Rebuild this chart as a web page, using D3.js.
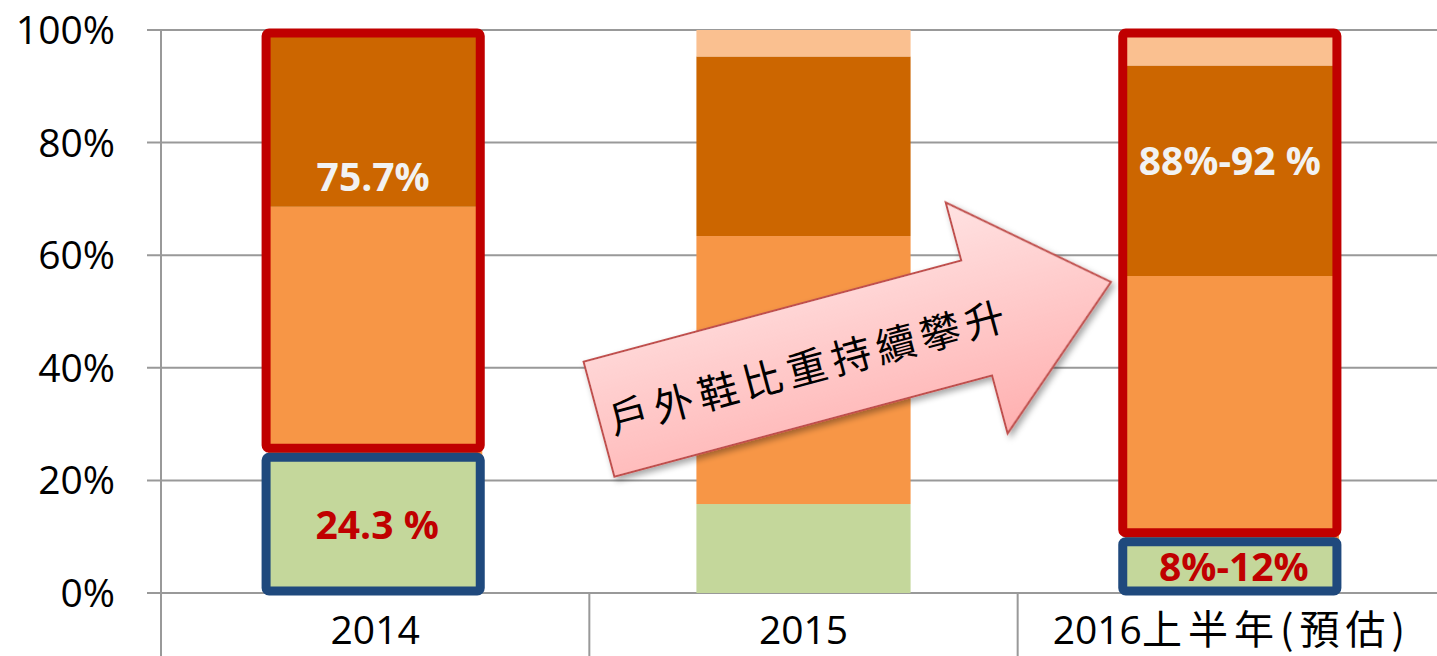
<!DOCTYPE html>
<html>
<head>
    <meta charset="utf-8">
    <script src="https://d3js.org/d3.v7.min.js"></script>
    <style>
        body {
            margin: 0;
            background: #fff;
            overflow: hidden;
        }
        svg text {
            font-family: "Open Sans", "Noto Sans CJK TC", sans-serif;
        }
        .grid line {
            stroke: #999;
            stroke-width: 2;
        }
    </style>
</head>
<body>
    <div id="chart"></div>

    <script>
        // Data (shares in %)
        const categories = ["2014", "2015", "2016上半年(預估)"];
        const greenVals = [24.3, 15.8, 9.3];
        const orangeVals = [44.3, 47.6, 47.0];
        const darkVals = [31.4, 31.9, 37.4];
        const peachVals = [0, 4.7, 6.3];
        const yTicks = [0, 20, 40, 60, 80, 100];

        // annotations
        const topLabels = ["75.7%", null, "88%-92 %"];
        const bottomLabels = ["24.3 %", null, "8%-12%"];
        const highlighted = [true, false, true];
        const arrowText = "戶外鞋比重持續攀升";

        const width = 1437, height = 656;
        const margin = {top: 30, right: -9, bottom: 63, left: 161};

        const svg = d3.select("#chart")
            .append("svg")
            .attr("width", width)
            .attr("height", height);

        const defs = svg.append("defs");
        const grad = defs.append("linearGradient")
            .attr("id", "pink")
            .attr("x1", 0).attr("y1", 0).attr("x2", 0).attr("y2", 1);
        grad.append("stop").attr("offset", "0%").attr("stop-color", "#ffe2e2");
        grad.append("stop").attr("offset", "100%").attr("stop-color", "#ffb0b0");

        const shadow = defs.append("filter")
            .attr("id", "shadow")
            .attr("x", "-10%").attr("y", "-10%")
            .attr("width", "130%").attr("height", "140%");
        shadow.append("feDropShadow")
            .attr("dx", 2).attr("dy", 4)
            .attr("stdDeviation", 3)
            .attr("flood-color", "#000")
            .attr("flood-opacity", 0.35);

        const x = d3.scaleBand()
            .domain(categories)
            .range([margin.left, width - margin.right])
            .paddingInner(0)
            .paddingOuter(0);

        const y = d3.scaleLinear()
            .domain([0, 100])
            .range([height - margin.bottom, margin.top]);

        const barW = x.bandwidth() * 0.5;
        const barX = c => x(c) + (x.bandwidth() - barW) / 2;

        // gridlines + small ticks left of axis
        const grid = svg.append("g").attr("class", "grid");
        grid.selectAll("line.h")
            .data(yTicks)
            .join("line")
            .attr("class", "h")
            .attr("x1", margin.left - 14)
            .attr("x2", width)
            .attr("y1", d => y(d))
            .attr("y2", d => y(d));

        // vertical axis and category separators
        grid.append("line")
            .attr("x1", margin.left).attr("x2", margin.left)
            .attr("y1", y(100)).attr("y2", height);
        grid.selectAll("line.sep")
            .data(categories.slice(1))
            .join("line")
            .attr("class", "sep")
            .attr("x1", d => x(d)).attr("x2", d => x(d))
            .attr("y1", y(0)).attr("y2", height);

        // y tick labels
        svg.append("g")
            .selectAll("text")
            .data(yTicks)
            .join("text")
            .attr("x", 115)
            .attr("y", d => y(d))
            .attr("dy", "0.36em")
            .attr("text-anchor", "end")
            .attr("font-size", 39)
            .attr("fill", "#000")
            .text(d => d + "%");

        // category labels
        const catG = svg.append("g");
        categories.forEach(c => {
            const t = catG.append("text")
                .attr("x", x(c) + x.bandwidth() / 2)
                .attr("y", 644)
                .attr("text-anchor", "middle")
                .attr("font-size", 39)
                .attr("fill", "#000");
            const m = c.match(/^(\d+)(.*)$/);
            t.append("tspan").text(m[1]);
            if (m[2]) {
                t.append("tspan")
                    .attr("letter-spacing", 6)
                    .attr("font-size", 40)
                    .style("font-family", "'Noto Sans CJK TC', sans-serif")
                    .text(m[2]);
            }
        });

        // stacked bars
        const rows = categories.map((c, i) => ({
            cat: c,
            green: greenVals[i],
            orange: orangeVals[i],
            dark: darkVals[i],
            peach: peachVals[i]
        }));
        const keys = ["green", "orange", "dark", "peach"];
        const colors = {green: "#c4d79b", orange: "#f79646", dark: "#cc6600", peach: "#fac090"};
        const stacked = d3.stack().keys(keys)(rows);

        svg.append("g")
            .selectAll("g")
            .data(stacked)
            .join("g")
            .attr("fill", d => colors[d.key])
            .selectAll("rect")
            .data(d => d)
            .join("rect")
            .attr("x", d => barX(d.data.cat))
            .attr("width", barW)
            .attr("y", d => y(d[1]))
            .attr("height", d => y(d[0]) - y(d[1]));

        // highlight boxes
        const boxes = svg.append("g").attr("fill", "none").attr("stroke-width", 9);
        categories.forEach((c, i) => {
            if (!highlighted[i]) return;
            const gTop = y(greenVals[i]);
            boxes.append("rect")
                .attr("x", barX(c) - 2)
                .attr("width", barW)
                .attr("y", y(100) + 3)
                .attr("height", gTop - 8 - (y(100) + 3))
                .attr("rx", 3)
                .attr("stroke", "#c00000");
            boxes.append("rect")
                .attr("x", barX(c) - 2)
                .attr("width", barW)
                .attr("y", gTop + 1)
                .attr("height", y(0) - 2 - (gTop + 1))
                .attr("rx", 3)
                .attr("stroke", "#1f497d");
        });

        // value labels
        const topLabelAt = [73.9, null, 76.7];
        categories.forEach((c, i) => {
            if (topLabels[i]) {
                svg.append("text")
                    .attr("x", x(c) + x.bandwidth() / 2 - 2)
                    .attr("y", y(topLabelAt[i]))
                    .attr("dy", "0.36em")
                    .attr("text-anchor", "middle")
                    .attr("font-size", 39)
                    .attr("font-weight", 700)
                    .attr("fill", "#f2f2f2")
                    .text(topLabels[i]);
            }
            if (bottomLabels[i]) {
                svg.append("text")
                    .attr("x", x(c) + x.bandwidth() / 2 + 2)
                    .attr("y", (y(greenVals[i]) + y(0)) / 2)
                    .attr("dy", "0.36em")
                    .attr("text-anchor", "middle")
                    .attr("font-size", 39)
                    .attr("font-weight", 700)
                    .attr("fill", "#c00000")
                    .text(bottomLabels[i]);
            }
        });

        // block arrow (local frame: x along shaft, y across)
        const shaftLen = 391, shaftW = 119, headLen = 139, barb = 60;
        const arrowPts = [
            [0, 0], [shaftLen, 0], [shaftLen, -barb],
            [shaftLen + headLen, shaftW / 2],
            [shaftLen, shaftW + barb], [shaftLen, shaftW], [0, shaftW]
        ];
        const arrow = svg.append("g")
            .attr("transform", "translate(583.6,361.7) rotate(-15)");
        arrow.append("path")
            .attr("d", d3.line()(arrowPts) + "Z")
            .attr("fill", "url(#pink)")
            .attr("stroke", "#c0504d")
            .attr("stroke-width", 2)
            .attr("filter", "url(#shadow)");
        arrow.append("text")
            .attr("x", 217)
            .attr("y", 64)
            .attr("dy", "0.36em")
            .attr("text-anchor", "middle")
            .attr("font-size", 40)
            .attr("letter-spacing", 6)
            .style("font-family", "'Noto Sans CJK TC', sans-serif")
            .attr("fill", "#000")
            .text(arrowText);
    </script>
</body>
</html>
